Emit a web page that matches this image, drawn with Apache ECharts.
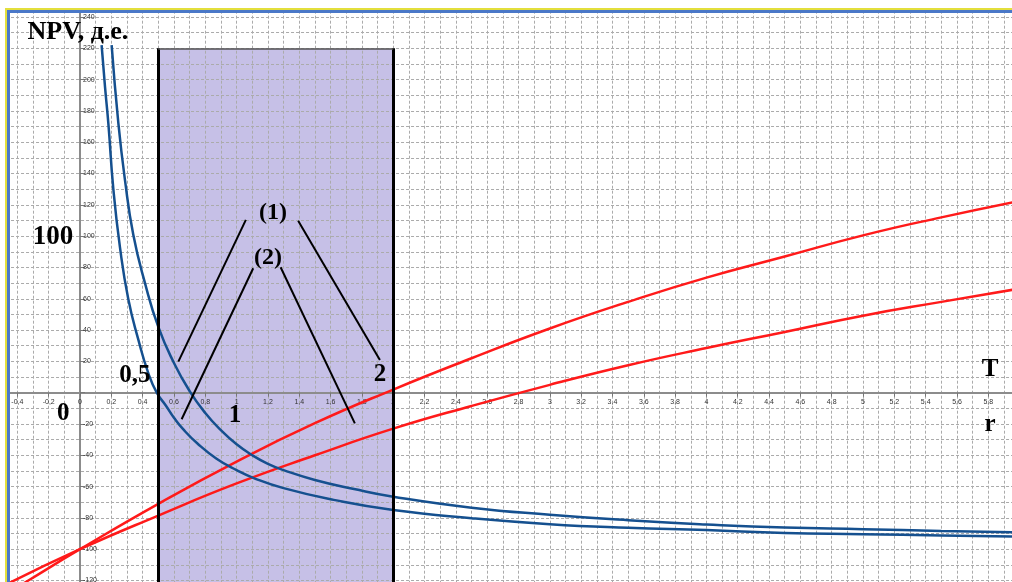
<!DOCTYPE html>
<html>
<head>
<meta charset="utf-8">
<script src="https://cdn.jsdelivr.net/npm/echarts@6/dist/echarts.min.js"></script>
<style>
  html, body { margin: 0; padding: 0; background: #fff; }
  #chart { width: 1012px; height: 582px; }
</style>
</head>
<body>
<div id="chart"></div>
<script>
// red curves (NPV vs T)
const redUpperX = [-0.46, -0.33, 0, 0.5, 1, 1.5, 2, 2.5, 3, 3.5, 4, 4.5, 5, 5.5, 6];
const redUpperY = [-128, -120, -100, -71, -44, -19.5, 2, 22, 41, 58, 73.5, 87, 100.5, 112, 122.5];
const redLowerX = [-0.46, 0, 0.5, 1, 1.5, 2, 2.5, 3, 3.5, 4, 4.5, 5, 5.5, 6];
const redLowerY = [-122, -100, -78.5, -58, -40, -23, -8.5, 5, 17.5, 28.5, 38.8, 49.2, 58, 66.5];

// blue curves (NPV vs r)
const blueLeftX = [0.138, 0.16, 0.181, 0.213, 0.255, 0.308, 0.372, 0.436, 0.49, 0.55, 0.6, 0.66, 0.75, 0.872, 1, 1.106, 1.3, 1.62, 2, 2.5, 3, 3.5, 4, 4.5, 5, 5.5, 6];
const blueLeftY = [222, 195, 172, 130, 93, 60, 34, 12.5, 0, -8.5, -16, -23.5, -32.5, -42.2, -49.5, -54.4, -61, -68.5, -75, -80.2, -84, -86.3, -87.8, -89.7, -90.4, -91.2, -92];
const blueRightX = [0.202, 0.245, 0.287, 0.34, 0.415, 0.5, 0.6, 0.7, 0.8, 0.9, 1, 1.1, 1.2, 1.3, 1.5, 1.75, 2, 2.5, 3, 3.5, 4, 4.5, 5, 5.5, 6];
const blueRightY = [222, 172, 136, 101, 70, 42, 19, 1, -13, -24, -33, -40, -45.5, -49.5, -55.8, -61.6, -66.5, -73.5, -78, -81.5, -84.2, -86.2, -87.2, -88.3, -89.3];

// shaded zone on the r axis
const zoneFrom = 0.5;
const zoneTo = 2;
const zoneTop = 220;

const pairs = (xs, ys) => xs.map((x, i) => [x, ys[i]]);

const fmt = v => {
  const r = Math.round(v * 10) / 10;
  return String(r).replace('.', ',');
};

const chart = echarts.init(document.getElementById('chart'));

const serif = '"Liberation Serif", "DejaVu Serif", serif';
const gridDash = { color: '#ababab', width: 1, type: [3, 2] };

// plot box: x = 0 sits at 80px, y = 0 at 392.7px
const G = { left: -13.96, top: -14.3, width: 1033.6, height: 626.1 };

function curve(name, data, color) {
  return {
    name: name,
    type: 'line',
    data: data,
    showSymbol: false,
    smooth: 0.5,
    lineStyle: { color: color, width: 2.5 },
    silent: true,
    z: 4
  };
}

const lead = (a, b) => [{ coord: a }, { coord: b }];

chart.setOption({
  animation: false,
  grid: Object.assign({ outerBoundsMode: 'none', containLabel: false }, G),
  xAxis: {
    type: 'value',
    z: 2,
    position: 'bottom',
    offset: -(G.top + G.height - 392.7),
    min: -0.6,
    max: 6.0,
    interval: 0.2,
    axisLine: { onZero: false, lineStyle: { color: '#8c8c8c', width: 2 } },
    axisTick: { show: true, length: 4, lineStyle: { color: '#777', width: 1 } },
    axisLabel: {
      fontSize: 7,
      color: '#333',
      margin: 6,
      fontFamily: 'Liberation Sans, Arial, sans-serif',
      formatter: v => (v < -0.5 || v > 5.9 ? '' : fmt(v))
    },
    splitLine: { show: true, lineStyle: gridDash },
    minorTick: { show: false, splitNumber: 2 },
    minorSplitLine: { show: true, lineStyle: gridDash }
  },
  yAxis: {
    type: 'value',
    z: 2,
    position: 'left',
    offset: -(80 - G.left),
    min: -140,
    max: 260,
    interval: 20,
    axisLine: { onZero: false, lineStyle: { color: '#8c8c8c', width: 2 } },
    axisTick: { show: true, inside: true, length: 5, lineStyle: { color: '#777', width: 1 } },
    axisLabel: {
      inside: true,
      fontSize: 7,
      color: '#333',
      margin: 3,
      fontFamily: 'Liberation Sans, Arial, sans-serif',
      formatter: v => (v === 0 || v < -120 || v > 240 ? '' : String(v))
    },
    splitLine: { show: true, lineStyle: gridDash },
    minorTick: { show: false, splitNumber: 2 },
    minorSplitLine: { show: true, lineStyle: gridDash }
  },
  series: [
    {
      name: 'zone',
      type: 'line',
      data: [],
      silent: true,
      z: 1,
      markArea: {
        silent: true,
        itemStyle: { color: 'rgba(160,150,215,0.6)', borderWidth: 0 },
        data: [[{ coord: [zoneFrom, zoneTop] }, { coord: [zoneTo, -140] }]]
      }
    },
    {
      name: 'zone edges',
      type: 'line',
      data: [],
      silent: true,
      z: 3,
      markLine: {
        silent: true,
        symbol: 'none',
        animation: false,
        label: { show: false },
        lineStyle: { color: '#000', width: 3, type: 'solid' },
        data: [
          lead([zoneFrom, -140], [zoneFrom, zoneTop]),
          lead([zoneTo, -140], [zoneTo, zoneTop]),
          [{ coord: [zoneFrom, zoneTop], lineStyle: { color: '#555', width: 1.5 } }, { coord: [zoneTo, zoneTop] }]
        ]
      }
    },
    curve('NPV(T) 1', pairs(redUpperX, redUpperY), '#ff1a1a'),
    curve('NPV(T) 2', pairs(redLowerX, redLowerY), '#ff1a1a'),
    curve('NPV(r) 1', pairs(blueLeftX, blueLeftY), '#15508f'),
    curve('NPV(r) 2', pairs(blueRightX, blueRightY), '#15508f'),
    {
      name: 'labels',
      type: 'scatter',
      symbolSize: 0,
      silent: true,
      z: 6,
      itemStyle: { opacity: 1 },
      label: {
        show: true,
        position: 'inside',
        formatter: p => p.name,
        fontFamily: serif,
        fontWeight: 'bold',
        fontSize: 25,
        color: '#000',
        opacity: 1,
        textBorderWidth: 0
      },
      data: [
        { name: '(1)', value: [1.232, 115.1], label: { fontSize: 24 } },
        { name: '(2)', value: [1.2, 86.2], label: { fontSize: 24 } },
        { name: '0,5', value: [0.351, 10.7] },
        { name: '0', value: [-0.107, -13.2] },
        { name: '1', value: [0.99, -14.3] },
        { name: '2', value: [1.916, 11.3] },
        { name: '100', value: [-0.172, 99.4], label: { fontSize: 27 } },
        { name: 'T', value: [5.811, 14.5] },
        { name: 'r', value: [5.811, -20.6] },
        { name: 'NPV, д.е.', value: [-0.013, 230.5], label: { fontSize: 26 } }
      ],
      markLine: {
        silent: true,
        symbol: 'none',
        animation: false,
        label: { show: false },
        lineStyle: { color: '#000', width: 2, type: 'solid', opacity: 1 },
        data: [
          lead([1.059, 110.4], [0.628, 19.8]),
          lead([1.393, 109.9], [1.915, 20.9]),
          lead([1.106, 79.5], [0.649, -17]),
          lead([1.281, 80.1], [1.755, -19.6])
        ]
      }
    }
  ],
  graphic: [
    { type: 'rect', z: 100, shape: { x: 0, y: 0, width: 1012, height: 10 }, style: { fill: '#fff' } },
    { type: 'rect', z: 100, shape: { x: 0, y: 0, width: 7, height: 582 }, style: { fill: '#fff' } },
    { type: 'rect', z: 101, shape: { x: 5, y: 8, width: 1007, height: 2 }, style: { fill: '#e3df3c' } },
    { type: 'rect', z: 101, shape: { x: 5, y: 8, width: 2, height: 574 }, style: { fill: '#e3df3c' } },
    { type: 'rect', z: 101, shape: { x: 7, y: 10, width: 1005, height: 3 }, style: { fill: '#4a78c8' } },
    { type: 'rect', z: 101, shape: { x: 7, y: 10, width: 3, height: 572 }, style: { fill: '#4a78c8' } }
  ]
});

window.addEventListener('resize', () => chart.resize());
</script>
</body>
</html>
